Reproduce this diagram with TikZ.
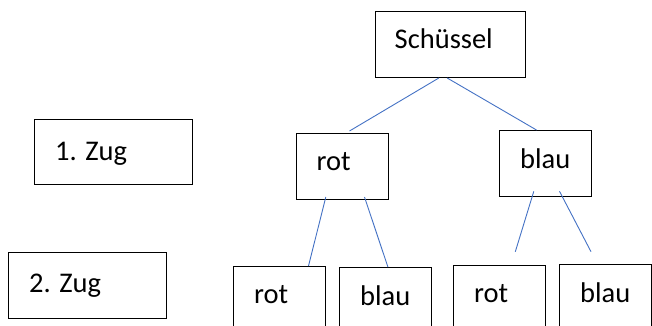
\documentclass[tikz,border=0pt]{standalone}
\usepackage{fontspec}
\setmainfont{Carlito}
\definecolor{lineblue}{HTML}{4472C4}
\begin{document}
\begin{tikzpicture}[x=1pt,y=-1pt,
  box/.style={draw=black,line width=1pt,rectangle,inner sep=0pt,anchor=north west},
  lbl/.style={anchor=base west,inner sep=0pt,font=\fontsize{28.5}{34}\selectfont},
  conn/.style={draw=lineblue,line width=0.9pt}]
\useasboundingbox (0,0) rectangle (652,325);
\clip (0,0) rectangle (652,325);
% boxes
\node[box,minimum width=150,minimum height=66] (s) at (375,11) {};
\node[box,minimum width=92,minimum height=66] (r1) at (296,133) {};
\node[box,minimum width=92,minimum height=66] (b1) at (499,130) {};
\node[box,minimum width=158,minimum height=65] (z1) at (34,119) {};
\node[box,minimum width=158,minimum height=66] (z2) at (8,252) {};
\node[box,minimum width=92,minimum height=80] (r2a) at (233,266) {};
\node[box,minimum width=92,minimum height=80] (b2a) at (339,267) {};
\node[box,minimum width=92,minimum height=80] (r2b) at (453,265) {};
\node[box,minimum width=92,minimum height=80] (b2b) at (559,264) {};
% texts
\node[lbl] (ts) at (394.5,48) {Schüssel};
\node[lbl] (tr1) at (316.5,170.5) {rot};
\node[lbl] (tb1) at (520,168) {blau};
\node[lbl] (tz1) at (55,160) {1. Zug};
\node[lbl] (tz2) at (29,292) {2. Zug};
\node[lbl] (tr2a) at (254,303) {rot};
\node[lbl] (tb2a) at (360,305) {blau};
\node[lbl] (tr2b) at (474,302.5) {rot};
\node[lbl] (tb2b) at (580,302) {blau};
% free ends
\coordinate (e1) at (515.3,251.7);
\coordinate (e2) at (591,251.7);
% connectors
\draw[conn] ([xshift=-11.7]s.south) -- ([xshift=7,yshift=2]r1.north);
\draw[conn] ([xshift=-3.3]s.south) -- ([xshift=-9]b1.north);
\draw[conn] ([xshift=-16.7,yshift=3]r1.south) -- ([xshift=29]r2a.north);
\draw[conn] ([xshift=22,yshift=3]r1.south) -- ([xshift=2.4]b2a.north);
\draw[conn] ([xshift=-11.7,yshift=5.7]b1.south) -- (e1);
\draw[conn] ([xshift=14,yshift=5.7]b1.south) -- (e2);
\end{tikzpicture}
\end{document}
